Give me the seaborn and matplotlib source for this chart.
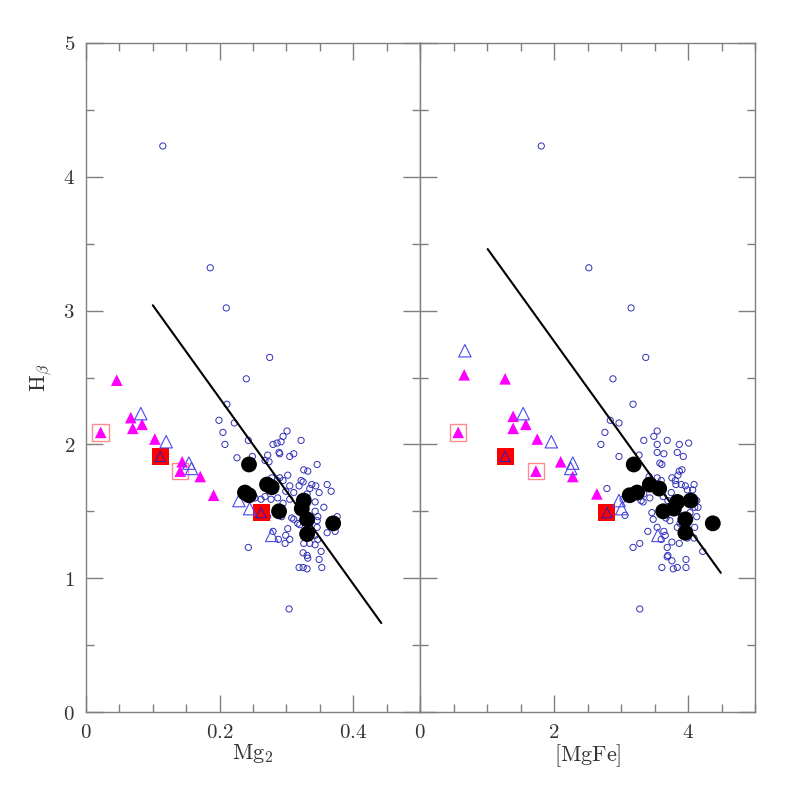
import matplotlib
matplotlib.use("Agg")
import matplotlib.pyplot as plt
from matplotlib.ticker import MultipleLocator, FuncFormatter
import numpy as np
import seaborn as sns

# -------------------------------------------------------- #
# values

# left panel: Mg2 vs Hbeta
field_mg2 = [0.115, 0.186, 0.210, 0.275, 0.240, 0.304,
             0.211, 0.199, 0.222, 0.205, 0.243, 0.208, 0.226, 0.249,
             0.301, 0.295, 0.280, 0.286, 0.292, 0.322, 0.289, 0.290, 0.272, 0.305,
             0.311, 0.268, 0.274, 0.326, 0.332, 0.346, 0.302, 0.290, 0.286, 0.295,
             0.278, 0.322, 0.325, 0.305, 0.319, 0.338, 0.344, 0.361, 0.367, 0.349,
             0.335, 0.331, 0.311, 0.299, 0.305, 0.295, 0.287, 0.277, 0.268, 0.262,
             0.253, 0.343, 0.356, 0.343, 0.347, 0.346, 0.335, 0.376, 0.373, 0.361,
             0.346, 0.343, 0.347, 0.335, 0.343, 0.326, 0.305, 0.288, 0.299, 0.302,
             0.311, 0.317, 0.320, 0.308, 0.293, 0.280, 0.298, 0.325, 0.331, 0.332,
             0.349, 0.352, 0.319, 0.325, 0.331, 0.353, 0.243, 0.272]
field_hb_l = [4.23, 3.32, 3.02, 2.65, 2.49, 0.77,
              2.30, 2.18, 2.16, 2.09, 2.03, 2.00, 1.90, 1.91,
              2.10, 2.06, 2.00, 2.01, 2.02, 2.03, 1.94, 1.93, 1.92, 1.91,
              1.93, 1.88, 1.87, 1.81, 1.80, 1.85, 1.77, 1.75, 1.73, 1.73,
              1.75, 1.73, 1.72, 1.69, 1.69, 1.70, 1.69, 1.70, 1.65, 1.64,
              1.67, 1.63, 1.64, 1.65, 1.59, 1.56, 1.60, 1.59, 1.61, 1.59,
              1.60, 1.57, 1.53, 1.50, 1.46, 1.43, 1.41, 1.46, 1.35, 1.34,
              1.38, 1.32, 1.29, 1.26, 1.25, 1.26, 1.29, 1.29, 1.32, 1.37,
              1.44, 1.41, 1.40, 1.45, 1.46, 1.35, 1.26, 1.19, 1.17, 1.15,
              1.14, 1.20, 1.08, 1.08, 1.07, 1.08, 1.23, 1.46]

# right panel: [MgFe] vs Hbeta
field_mgfe = [1.81, 2.52, 3.15, 3.37, 2.88, 3.28,
              3.18, 2.84, 2.97, 2.76, 2.70, 2.97, 2.79, 3.03, 3.06,
              3.54, 3.49, 3.34, 3.69, 3.54, 3.87, 4.01, 3.27, 3.54, 3.64,
              3.84, 3.93, 3.58, 3.61, 3.87, 3.91, 3.85, 3.42, 3.54, 3.60,
              3.76, 3.81, 3.82, 3.90, 3.96, 4.09, 4.07, 3.99, 3.75, 3.34,
              3.43, 3.30, 3.63, 3.70, 3.33, 4.13, 4.10, 4.15,
              3.46, 3.48, 3.40, 3.67, 3.73, 3.84, 3.88, 4.03, 4.13, 4.10,
              4.09, 4.22, 3.99, 3.76, 3.87, 3.60, 3.66, 3.64, 3.69, 3.70,
              3.69, 3.76, 3.97, 3.97, 3.84, 3.78, 3.61, 3.28, 3.18, 3.54]
field_hb_r = [4.23, 3.32, 3.02, 2.65, 2.49, 0.77,
              2.30, 2.18, 2.16, 2.09, 2.00, 1.91, 1.67, 1.59, 1.47,
              2.10, 2.06, 2.03, 2.03, 2.00, 2.00, 2.01, 1.92, 1.94, 1.93,
              1.94, 1.91, 1.86, 1.85, 1.80, 1.81, 1.77, 1.76, 1.75, 1.73,
              1.75, 1.73, 1.70, 1.70, 1.69, 1.70, 1.66, 1.66, 1.64, 1.63,
              1.60, 1.58, 1.61, 1.58, 1.57, 1.58, 1.53, 1.53,
              1.49, 1.44, 1.35, 1.45, 1.43, 1.38, 1.41, 1.49, 1.46, 1.38,
              1.30, 1.20, 1.30, 1.27, 1.26, 1.29, 1.32, 1.35, 1.23, 1.17,
              1.16, 1.13, 1.14, 1.08, 1.08, 1.07, 1.08, 1.26, 1.23, 1.38]

# big black dots
ell_mg2 = [0.244, 0.238, 0.244, 0.271, 0.278, 0.289, 0.326, 0.323, 0.331, 0.331, 0.370]
ell_hb_l = [1.85, 1.64, 1.62, 1.70, 1.68, 1.50, 1.58, 1.52, 1.44, 1.33, 1.41]
ell_mgfe = [3.19, 3.13, 3.24, 3.43, 3.57, 3.63, 3.84, 3.79, 4.04, 3.96, 3.96, 4.37]
ell_hb_r = [1.85, 1.62, 1.64, 1.70, 1.67, 1.50, 1.57, 1.52, 1.58, 1.44, 1.34, 1.41]

# filled magenta triangles
tri_mg2 = [0.046, 0.067, 0.084, 0.070, 0.103, 0.022, 0.144, 0.141, 0.171, 0.191]
tri_hb_l = [2.48, 2.20, 2.15, 2.12, 2.04, 2.09, 1.87, 1.80, 1.76, 1.62]
tri_mgfe = [0.66, 1.27, 1.39, 1.58, 1.39, 1.75, 0.57, 2.10, 2.28, 1.73, 2.64]
tri_hb_r = [2.52, 2.49, 2.21, 2.15, 2.12, 2.04, 2.09, 1.87, 1.76, 1.80, 1.63]

# open blue triangles
otri_mg2 = [0.082, 0.120, 0.154, 0.158, 0.229, 0.245, 0.278]
otri_hb_l = [2.23, 2.02, 1.86, 1.82, 1.58, 1.52, 1.32]
otri_mgfe = [0.67, 1.54, 1.96, 2.28, 2.25, 2.97, 3.01, 3.55]
otri_hb_r = [2.70, 2.23, 2.02, 1.86, 1.82, 1.58, 1.52, 1.32]

# red filled squares (with a blue triangle inside)
sq_mg2 = [0.111, 0.262]
sq_hb_l = [1.91, 1.49]
sq_mgfe = [1.27, 2.79]
sq_hb_r = [1.91, 1.49]

# open pink squares
osq_mg2 = [0.022, 0.141]
osq_hb_l = [2.09, 1.80]
osq_mgfe = [0.57, 1.73]
osq_hb_r = [2.09, 1.80]

# fitted lines (end points)
fit_mg2 = [0.100, 0.442]
fit_hb_l = [3.04, 0.665]
fit_mgfe = [1.01, 4.49]
fit_hb_r = [3.46, 1.04]

# -------------------------------------------------------- #

sns.set_style("ticks")
plt.rcParams["font.family"] = ["DejaVu Serif"]
plt.rcParams["mathtext.fontset"] = "cm"

AXC = "#7f7f7f"
fig = plt.figure(figsize=(7.97, 7.97), dpi=100)
axl = fig.add_axes([86 / 797, 85 / 797, 334 / 797, 669 / 797])
axr = fig.add_axes([420 / 797, 85 / 797, 335 / 797, 669 / 797])


def mathfmt(v, pos):
    return f"${v:g}$"


def panel(ax, fx, fy, ex, ey, tx, ty, ox, oy, sx, sy, px, py, lx, ly):
    sns.scatterplot(x=fx, y=fy, ax=ax, marker="o", s=20, facecolor="none",
                    edgecolor="#3030b8", linewidth=0.7, zorder=3)
    sns.scatterplot(x=sx, y=sy, ax=ax, marker="s", s=150, color="#ff0000",
                    edgecolor="none", linewidth=0, zorder=4)
    sns.scatterplot(x=px, y=py, ax=ax, marker="s", s=140, facecolor="none",
                    edgecolor="#ff8c8c", linewidth=1.0, zorder=4)
    sns.scatterplot(x=tx, y=ty, ax=ax, marker="^", s=70, color="#ff00ff",
                    edgecolor="none", linewidth=0, zorder=5)
    sns.scatterplot(x=ox, y=oy, ax=ax, marker="^", s=80, facecolor="none",
                    edgecolor="#4848ee", linewidth=0.8, zorder=5)
    # blue triangles drawn inside the red squares
    sns.scatterplot(x=sx, y=sy, ax=ax, marker="^", s=55, facecolor="none",
                    edgecolor="#2020c0", linewidth=0.7, zorder=5)
    sns.scatterplot(x=ex, y=ey, ax=ax, marker="o", s=130, color="black",
                    edgecolor="none", linewidth=0, zorder=6)
    sns.lineplot(x=lx, y=ly, ax=ax, color="black", linewidth=1.5, sort=False,
                 estimator=None, zorder=7)
    ax.set_ylim(0, 5)
    ax.yaxis.set_major_locator(MultipleLocator(1))
    ax.yaxis.set_minor_locator(MultipleLocator(0.5))
    ax.tick_params(which="both", direction="in", top=True, right=True,
                   color=AXC, width=1.0, labelsize=15, pad=8,
                   labelcolor="#333333")
    ax.tick_params(which="major", length=12)
    ax.tick_params(which="minor", length=6)
    for sp in ax.spines.values():
        sp.set_color(AXC)
        sp.set_linewidth(1.0)
    ax.xaxis.set_major_formatter(FuncFormatter(mathfmt))
    ax.yaxis.set_major_formatter(FuncFormatter(mathfmt))


panel(axl, field_mg2, field_hb_l, ell_mg2, ell_hb_l, tri_mg2, tri_hb_l,
      otri_mg2, otri_hb_l, sq_mg2, sq_hb_l, osq_mg2, osq_hb_l, fit_mg2, fit_hb_l)
panel(axr, field_mgfe, field_hb_r, ell_mgfe, ell_hb_r, tri_mgfe, tri_hb_r,
      otri_mgfe, otri_hb_r, sq_mgfe, sq_hb_r, osq_mgfe, osq_hb_r, fit_mgfe, fit_hb_r)

axl.set_xlim(0, 0.5)
axl.xaxis.set_major_locator(MultipleLocator(0.2))
axl.xaxis.set_minor_locator(MultipleLocator(0.05))
axr.set_xlim(0, 5)
axr.xaxis.set_major_locator(MultipleLocator(2))
axr.xaxis.set_minor_locator(MultipleLocator(0.5))
axr.tick_params(labelleft=False)

axl.set_xlabel(r"$\mathrm{Mg_2}$", fontsize=16, labelpad=0, color="#333333")
axr.set_xlabel(r"$\mathrm{[MgFe]}$", fontsize=16, labelpad=0, color="#333333")
axl.set_ylabel(r"$\mathrm{H_\beta}$", fontsize=16, labelpad=6, color="#333333")

fig.savefig("out.png", dpi=100)
